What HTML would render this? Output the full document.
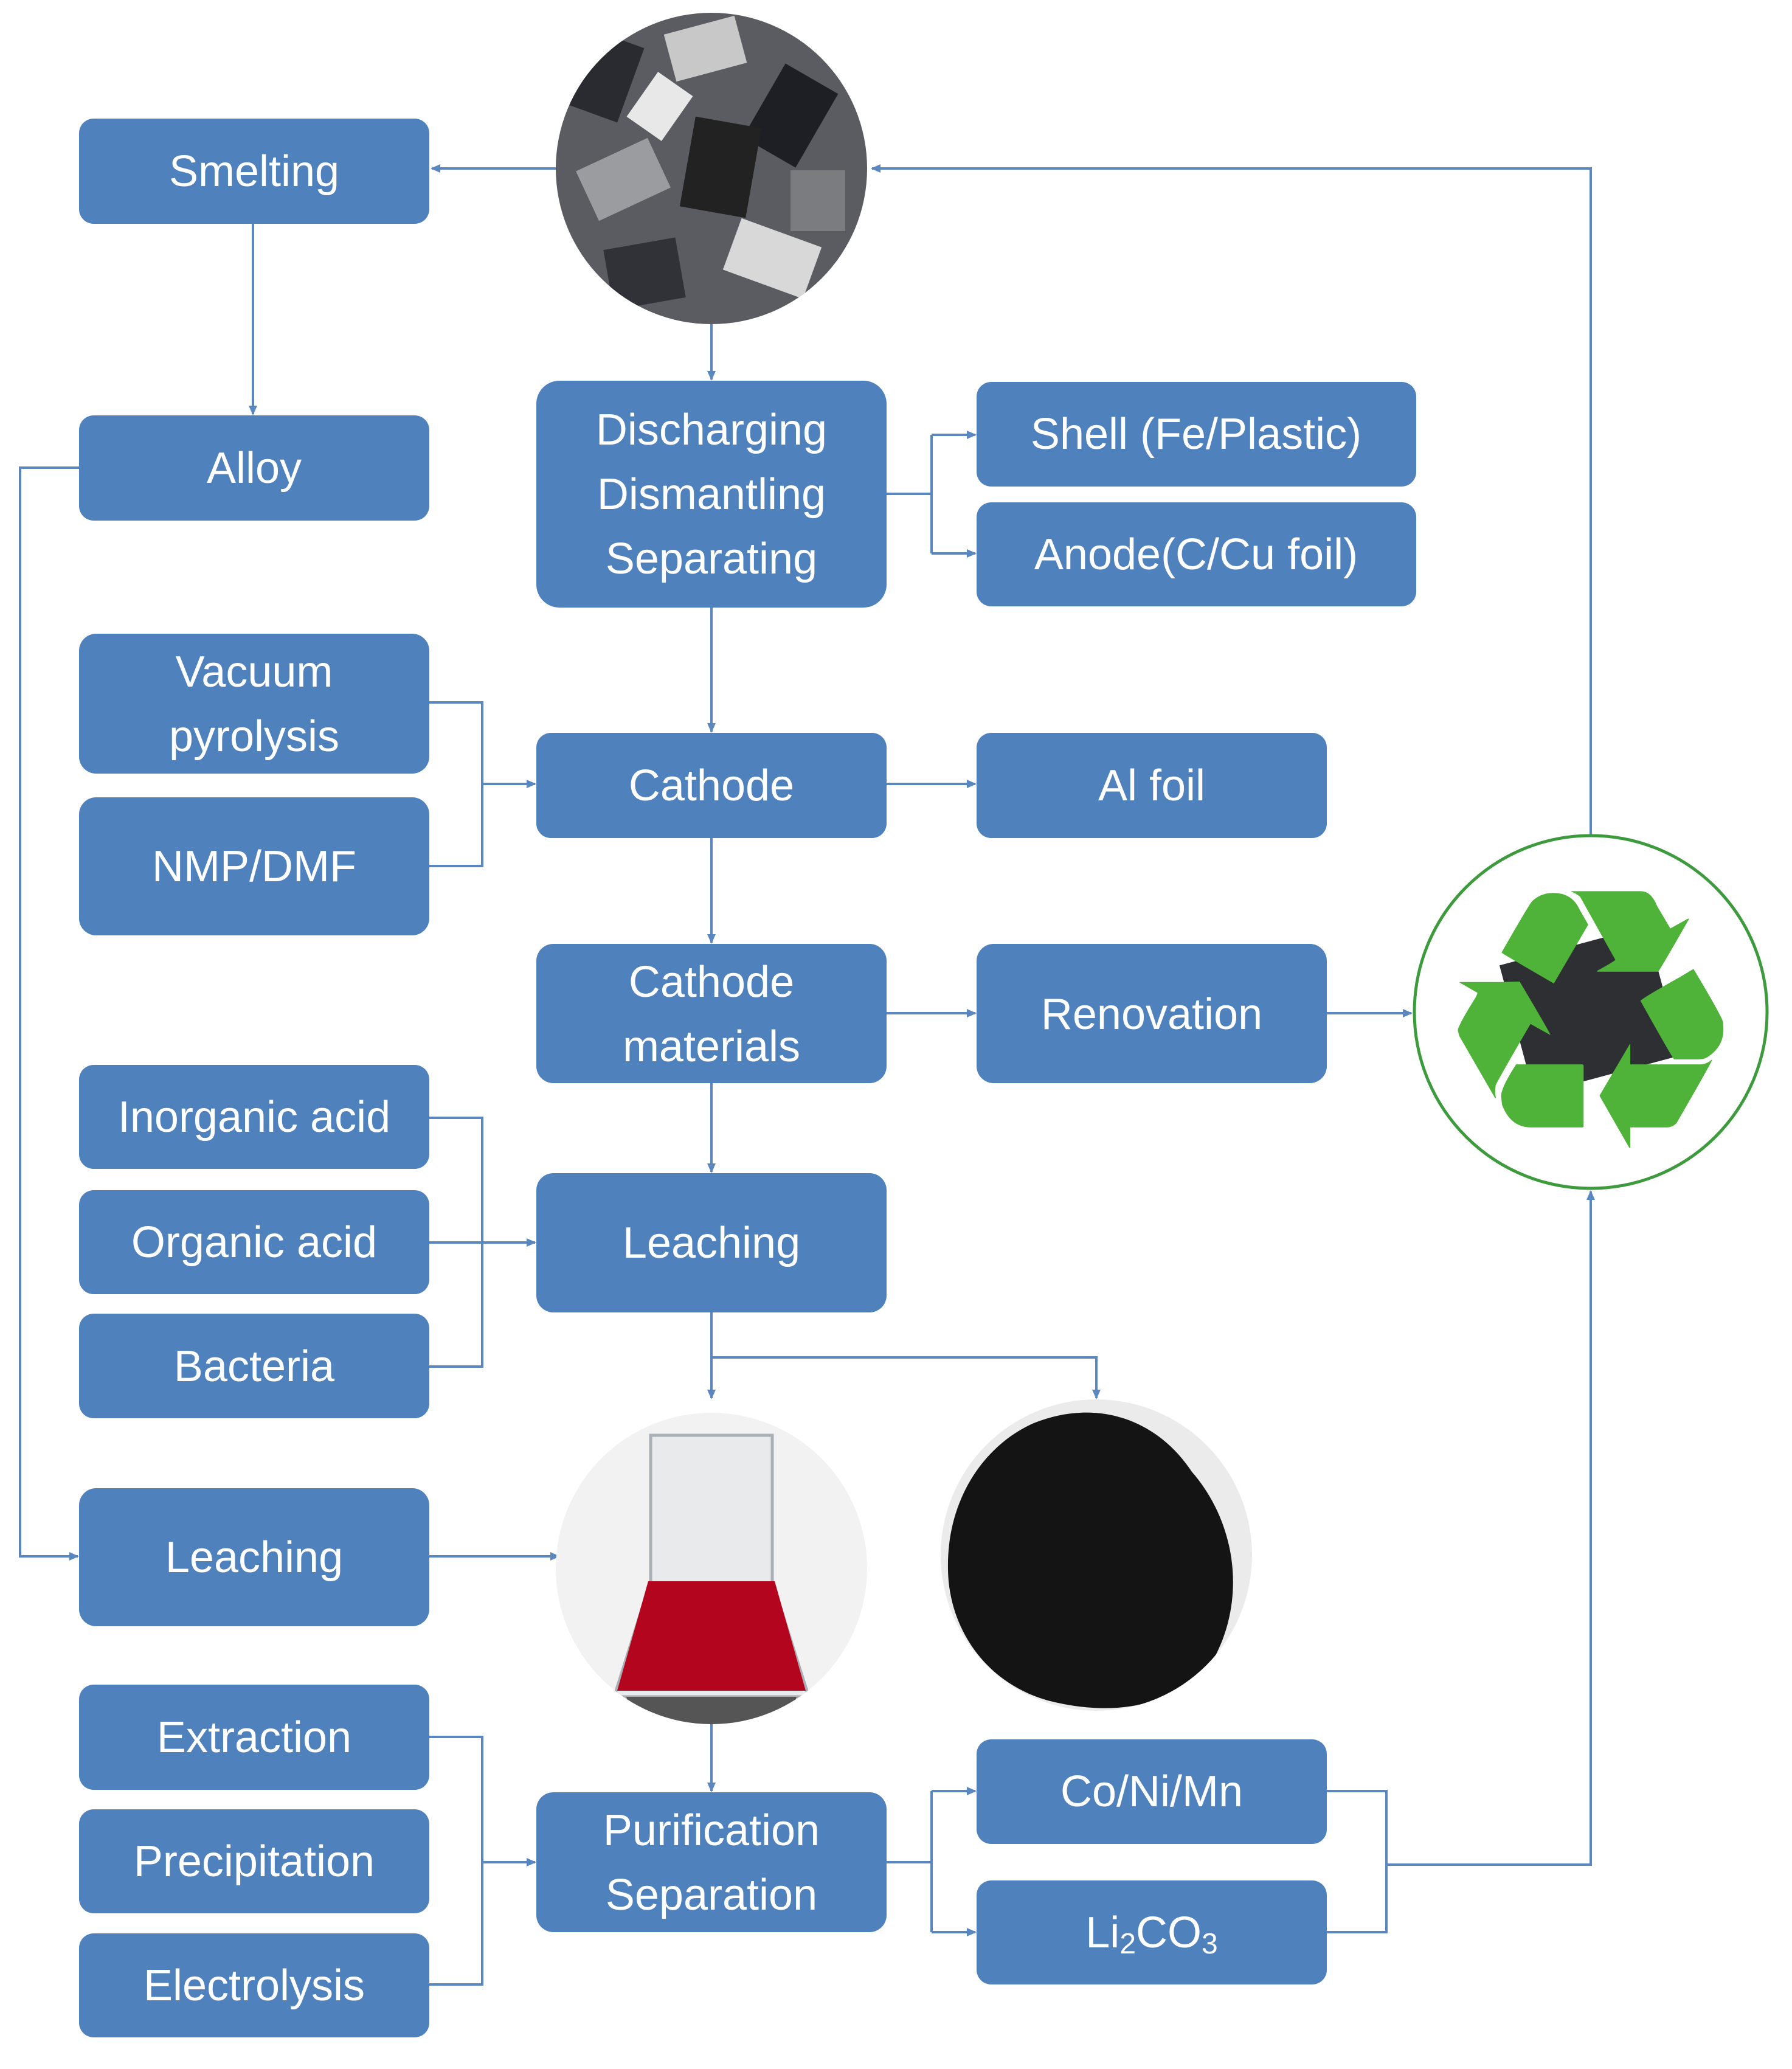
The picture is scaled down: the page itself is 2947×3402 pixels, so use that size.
<!DOCTYPE html>
<html><head><meta charset="utf-8"><style>
html,body{margin:0;padding:0;background:#fff}
svg{display:block}
.b{fill:#4f81bd}
text{font-family:"Liberation Sans",sans-serif;font-size:72px;fill:#fff;text-anchor:middle;dominant-baseline:central}
.l{stroke:#5b87c0;stroke-width:4;fill:none}
</style></head><body>
<svg width="2947" height="3402" viewBox="0 0 2947 3402" xmlns="http://www.w3.org/2000/svg">
<defs>
<marker id="a" markerWidth="16" markerHeight="14" refX="14" refY="7" orient="auto" markerUnits="userSpaceOnUse" viewBox="0 0 16 14"><path d="M0,0 L16,7 L0,14 z" fill="#5b87c0"/></marker>
<clipPath id="c1"><circle cx="1170" cy="277" r="256"/></clipPath>
<clipPath id="c3"><circle cx="1170" cy="2579" r="256"/></clipPath>
<clipPath id="c4"><circle cx="1803" cy="2557" r="256"/></clipPath>
</defs>
<g class="l">
<path d="M921,277 H710" marker-end="url(#a)"/>
<path d="M2616,1372 V277 H1434" marker-end="url(#a)"/>
<path d="M416,368 V681" marker-end="url(#a)"/>
<path d="M130,769 H33 V2559 H128" marker-end="url(#a)"/>
<path d="M1170,533 V624" marker-end="url(#a)"/>
<path d="M1458,812 H1532"/>
<path d="M1532,715 V910"/>
<path d="M1532,715 H1604" marker-end="url(#a)"/>
<path d="M1532,910 H1604" marker-end="url(#a)"/>
<path d="M1170,999 V1203" marker-end="url(#a)"/>
<path d="M706,1155 H793 V1424 H706"/>
<path d="M793,1289 H880" marker-end="url(#a)"/>
<path d="M1458,1289 H1604" marker-end="url(#a)"/>
<path d="M1170,1378 V1550" marker-end="url(#a)"/>
<path d="M1458,1666 H1604" marker-end="url(#a)"/>
<path d="M2182,1666 H2321" marker-end="url(#a)"/>
<path d="M1170,1781 V1927" marker-end="url(#a)"/>
<path d="M706,1838 H793 V2247 H706"/>
<path d="M706,2043 H880" marker-end="url(#a)"/>
<path d="M1170,2158 V2299" marker-end="url(#a)"/>
<path d="M1170,2232 H1803 V2299" marker-end="url(#a)"/>
<path d="M706,2559 H919" marker-end="url(#a)"/>
<path d="M1170,2835 V2945" marker-end="url(#a)"/>
<path d="M706,2856 H793 V3263 H706"/>
<path d="M793,3062 H880" marker-end="url(#a)"/>
<path d="M1458,3062 H1532"/>
<path d="M1532,2945 V3177"/>
<path d="M1532,2945 H1604" marker-end="url(#a)"/>
<path d="M1532,3177 H1604" marker-end="url(#a)"/>
<path d="M2182,2945 H2280 V3177 H2182"/>
<path d="M2280,3066 H2616 V1959" marker-end="url(#a)"/>
</g>
<rect class="b" x="130" y="195" width="576" height="173" rx="24"/><text x="418" y="282">Smelting</text>
<rect class="b" x="130" y="683" width="576" height="173" rx="24"/><text x="418" y="770">Alloy</text>
<rect class="b" x="882" y="626" width="576" height="373" rx="38"/>
<text x="1170" y="707">Discharging</text><text x="1170" y="813">Dismantling</text><text x="1170" y="919">Separating</text>
<rect class="b" x="1606" y="628" width="723" height="172" rx="24"/><text x="1967" y="714">Shell (Fe/Plastic)</text>
<rect class="b" x="1606" y="826" width="723" height="171" rx="24"/><text x="1967" y="912">Anode(C/Cu foil)</text>
<rect class="b" x="130" y="1042" width="576" height="230" rx="28"/><text x="418" y="1105">Vacuum</text><text x="418" y="1211">pyrolysis</text>
<rect class="b" x="130" y="1311" width="576" height="227" rx="28"/><text x="418" y="1425">NMP/DMF</text>
<rect class="b" x="882" y="1205" width="576" height="173" rx="24"/><text x="1170" y="1292">Cathode</text>
<rect class="b" x="1606" y="1205" width="576" height="173" rx="24"/><text x="1894" y="1292">Al foil</text>
<rect class="b" x="882" y="1552" width="576" height="229" rx="28"/><text x="1170" y="1615">Cathode</text><text x="1170" y="1721">materials</text>
<rect class="b" x="1606" y="1552" width="576" height="229" rx="28"/><text x="1894" y="1668">Renovation</text>
<rect class="b" x="130" y="1751" width="576" height="171" rx="24"/><text x="418" y="1837">Inorganic acid</text>
<rect class="b" x="130" y="1957" width="576" height="171" rx="24"/><text x="418" y="2043">Organic acid</text>
<rect class="b" x="130" y="2160" width="576" height="172" rx="24"/><text x="418" y="2247">Bacteria</text>
<rect class="b" x="882" y="1929" width="576" height="229" rx="28"/><text x="1170" y="2044">Leaching</text>
<rect class="b" x="130" y="2447" width="576" height="227" rx="28"/><text x="418" y="2561">Leaching</text>
<rect class="b" x="130" y="2770" width="576" height="173" rx="24"/><text x="418" y="2857">Extraction</text>
<rect class="b" x="130" y="2975" width="576" height="171" rx="24"/><text x="418" y="3061">Precipitation</text>
<rect class="b" x="130" y="3179" width="576" height="171" rx="24"/><text x="418" y="3265">Electrolysis</text>
<rect class="b" x="882" y="2947" width="576" height="230" rx="28"/><text x="1170" y="3010">Purification</text><text x="1170" y="3116">Separation</text>
<rect class="b" x="1606" y="2860" width="576" height="172" rx="24"/><text x="1894" y="2946">Co/Ni/Mn</text>
<rect class="b" x="1606" y="3092" width="576" height="171" rx="24"/><text x="1894" y="3178">Li<tspan font-size="48" dy="18">2</tspan><tspan dy="-18">CO</tspan><tspan font-size="48" dy="18">3</tspan></text>
<g clip-path="url(#c1)">
<rect x="900" y="0" width="540" height="540" fill="#5a5c62"/>
<rect x="950" y="60" width="90" height="130" fill="#2a2b30" transform="rotate(20 995 125)"/>
<rect x="1100" y="40" width="120" height="80" fill="#c8c8c8" transform="rotate(-15 1160 80)"/>
<rect x="1250" y="120" width="100" height="140" fill="#1e1f24" transform="rotate(30 1300 190)"/>
<rect x="960" y="250" width="130" height="90" fill="#9a9ca0" transform="rotate(-25 1025 295)"/>
<rect x="1130" y="200" width="110" height="150" fill="#222" transform="rotate(10 1185 275)"/>
<rect x="1200" y="380" width="140" height="90" fill="#d8d8d8" transform="rotate(20 1270 425)"/>
<rect x="1000" y="400" width="120" height="100" fill="#303238" transform="rotate(-10 1060 450)"/>
<rect x="1300" y="280" width="90" height="100" fill="#7a7c80"/>
<rect x="1050" y="130" width="70" height="90" fill="#e8e8e8" transform="rotate(35 1085 175)"/>
</g>
<circle cx="2616" cy="1664" r="290" fill="#fff" stroke="#3d9a3d" stroke-width="5"/>
<rect x="2490" y="1550" width="250" height="220" fill="#2e2f33" transform="rotate(-15 2620 1660)"/>
<text x="2616" y="1680" style="font-family:'DejaVu Sans',sans-serif;font-size:600px;fill:#4fb33a">♻</text>
<g clip-path="url(#c3)">
<rect x="900" y="2300" width="540" height="560" fill="#f2f2f2"/>
<path d="M1070,2360 L1270,2360 L1270,2600 L1330,2790 L1010,2790 L1070,2600 z" fill="#e8eaec" stroke="#aab0b5" stroke-width="5"/>
<path d="M1066,2600 L1274,2600 L1325,2780 L1015,2780 z" fill="#b3051d"/>
<path d="M1030,2790 L1310,2790 L1300,2835 L1040,2835 z" fill="#555"/>
</g>
<g clip-path="url(#c4)">
<rect x="1540" y="2290" width="540" height="540" fill="#ebebeb"/>
<path d="M1700,2340 C1800,2300 1900,2330 1960,2420 C2030,2500 2050,2620 2000,2720 C1940,2810 1830,2820 1740,2800 C1640,2780 1570,2700 1560,2600 C1550,2480 1610,2380 1700,2340 z" fill="#141414"/>
</g>
</svg>
</body></html>
